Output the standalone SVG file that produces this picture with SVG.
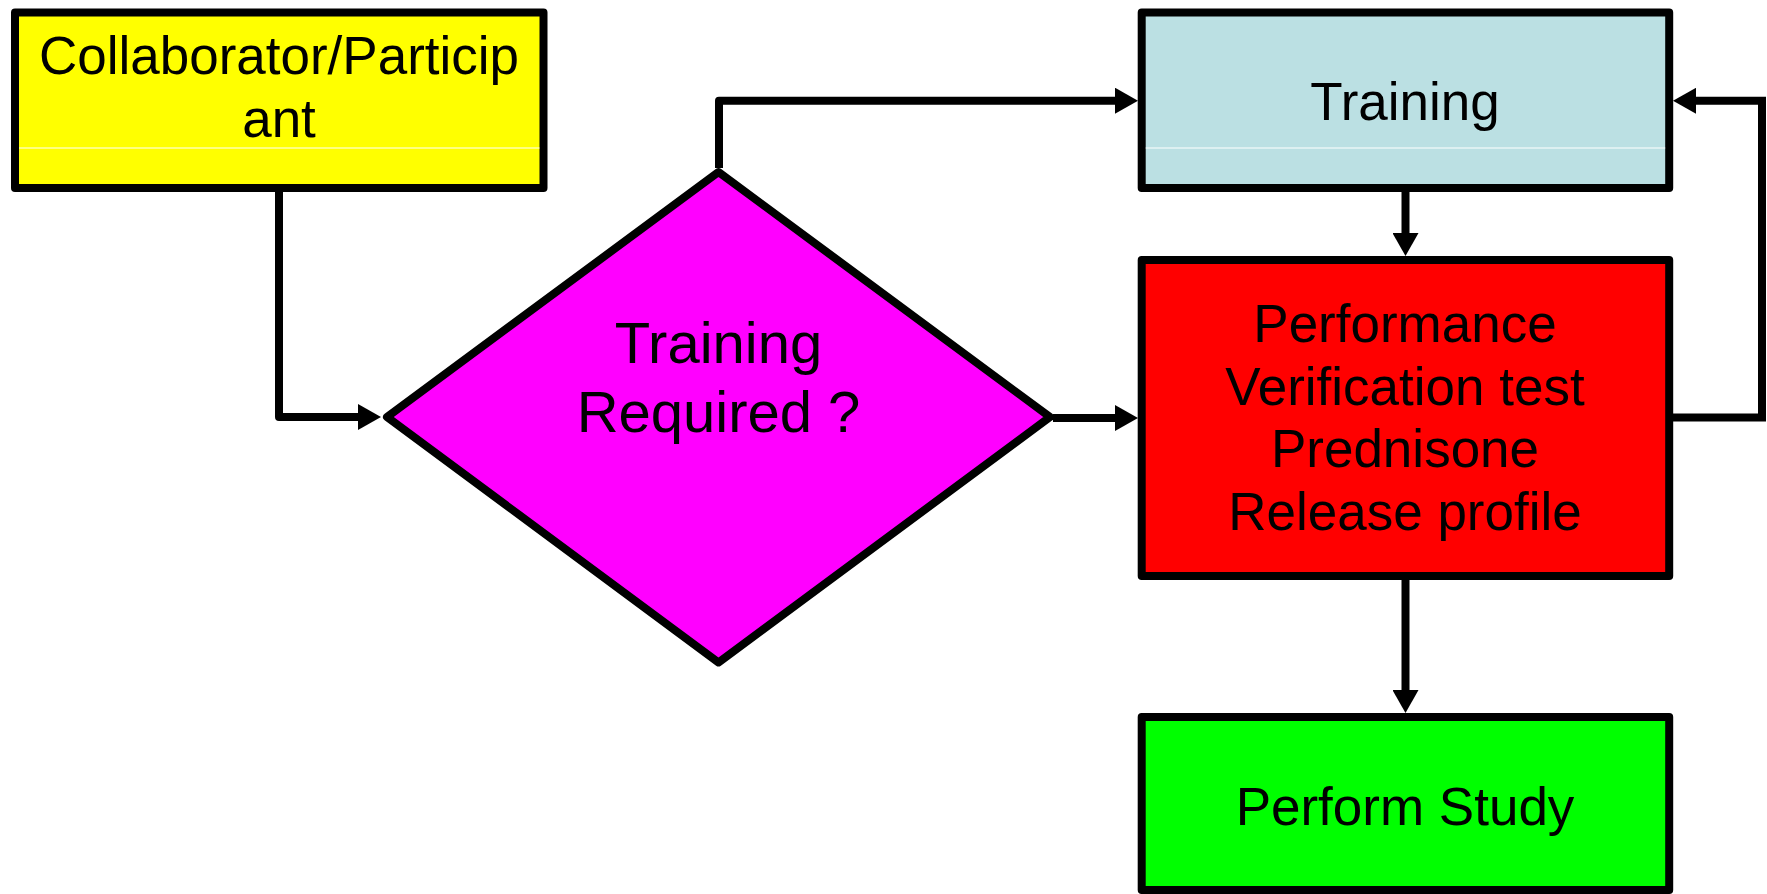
<svg xmlns="http://www.w3.org/2000/svg" width="1767" height="894" viewBox="0 0 1767 894">
<style>
.box{stroke:#000;stroke-width:8;stroke-linejoin:round}
.t{font-family:"Liberation Sans",Arial,sans-serif;font-size:53px;fill:#000;text-anchor:middle}
.td{font-family:"Liberation Sans",Arial,sans-serif;font-size:58px;fill:#000;text-anchor:middle}
.sep{stroke:#fff;stroke-width:1.2}
.c{fill:none;stroke:#000;stroke-width:8;marker-end:url(#ah)}
</style>
<defs>
<marker id="ah" viewBox="0 0 23 26" refX="0" refY="13" markerWidth="23" markerHeight="26" markerUnits="userSpaceOnUse" orient="auto">
<path d="M0,0 L23,13 L0,26 Z" fill="#000"/>
</marker>
</defs>
<rect width="1767" height="894" fill="#fff"/>
<g id="connectors">
<path class="c" d="M279,192 V417 H358" stroke-linejoin="round"/>
<path class="c" d="M719,168 V100.7 H1115" stroke-linejoin="round"/>
<path class="c" d="M1053,418 H1115"/>
<path class="c" d="M1405.5,192 V233"/>
<path class="c" d="M1673,417.5 H1762 V100.8 H1696" stroke-linejoin="miter"/>
<path class="c" d="M1405.5,580 V690"/>
</g>
<g id="collaborator">
<rect class="box" x="15" y="12.5" width="528.5" height="175.5" fill="#ffff00"/>
<line class="sep" x1="19" y1="148" x2="539.5" y2="148"/>
<text class="t" x="279" y="74">Collaborator/Particip</text>
<text class="t" x="279" y="137">ant</text>
</g>
<g id="decision">
<polygon class="box" points="718.5,172 1050,417 718.5,662.5 387,417" fill="#ff00ff" stroke-linejoin="miter"/>
<text class="td" x="718.5" y="363">Training</text>
<text class="td" x="718.5" y="431.5">Required ?</text>
</g>
<g id="training">
<rect class="box" x="1141.7" y="12.5" width="527.5" height="175.5" fill="#bbe0e3"/>
<line class="sep" x1="1145.7" y1="148" x2="1665.2" y2="148"/>
<text class="t" x="1405" y="120">Training</text>
</g>
<g id="pvt">
<rect class="box" x="1141.7" y="260" width="527.5" height="316" fill="#ff0000"/>
<text class="t" x="1405" y="341.5">Performance</text>
<text class="t" x="1405" y="404.5">Verification test</text>
<text class="t" x="1405" y="466.5">Prednisone</text>
<text class="t" x="1405" y="529.5">Release profile</text>
</g>
<g id="study">
<rect class="box" x="1141.7" y="717" width="527.5" height="173" fill="#00ff00"/>
<text class="t" x="1405" y="825">Perform Study</text>
</g>
</svg>
